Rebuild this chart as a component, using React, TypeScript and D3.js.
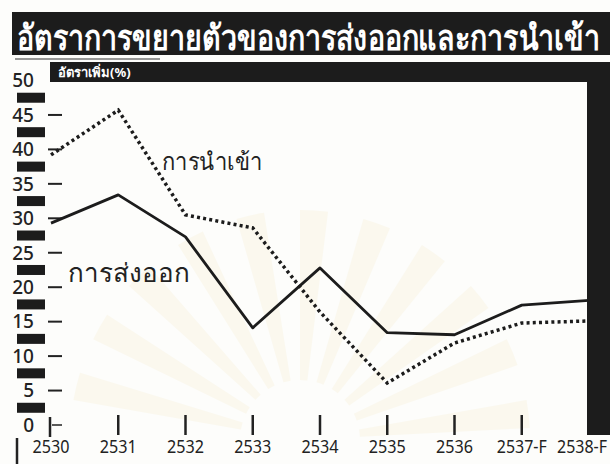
import { useLayoutEffect, useRef, useState } from "react";
import * as d3 from "d3";

const years = ["2530", "2531", "2532", "2533", "2534", "2535", "2536", "2537-F", "2538-F"];
const exports = [29.3, 33.4, 27.3, 14.1, 22.8, 13.4, 13.1, 17.4, 18.1];
const imports = [39.2, 45.7, 30.5, 28.6, 16.4, 6.1, 11.9, 14.8, 15.1];
const yTicks = [50, 45, 40, 35, 30, 25, 20, 15, 10, 5, 0];
const title = "อัตราการขยายตัวของการส่งออกและการนำเข้า";
const yTitle = "อัตราเพิ่ม(%)";
const exportLabel = "การส่งออก";
const importLabel = "การนำเข้า";

const W = 610;
const H = 464;
const font = "'Noto Sans', 'DejaVu Sans', sans-serif";
const ink = "#1c1c1c";

// text squeezed horizontally to a given width (measured, then scaled)
const FitText = ({
  x,
  y,
  width,
  anchor = "start",
  children,
  ...rest
}: any) => {
  const ref = useRef<SVGTextElement>(null);
  const [sx, setSx] = useState(1);
  useLayoutEffect(() => {
    if (!ref.current) return;
    const w = ref.current.getBBox().width;
    if (w > 0) setSx(width / w);
  }, [width, children]);
  return (
    <g transform={`translate(${x},${y}) scale(${sx},1)`}>
      <text ref={ref} textAnchor={anchor} {...rest}>
        {children}
      </text>
    </g>
  );
};

export default function App() {
  const x = d3.scalePoint<string>().domain(years).range([51, 589]);
  const y = d3.scaleLinear().domain([0, 50]).range([425, 80.5]);

  const line = d3
    .line<number>()
    .x((_, i) => x(years[i])!)
    .y((d) => y(d));

  const blocks = d3.range(2.5, 50, 5);

  // faint watermark rays behind the chart (scan artefact)
  const rays = d3.range(-80, 81, 16).map((a) => {
    const arc = d3.arc()({
      innerRadius: 60,
      outerRadius: 230,
      startAngle: (a * Math.PI) / 180,
      endAngle: ((a + 7) * Math.PI) / 180,
    } as any);
    return arc!;
  });

  return (
    <div style={{ position: "absolute", left: 0, top: 0 }}>
      <svg width={W} height={H} style={{ display: "block", background: "#fdfdfb" }}>
        <g transform="translate(300,440)" fill="#f6ecc9" opacity={0.25}>
          {rays.map((d, i) => (
            <path key={i} d={d} />
          ))}
        </g>

        {/* title banner */}
        <rect x={12} y={12} width={W - 12} height={43} fill={ink} />
        <FitText
          x={17}
          y={50}
          width={586}
          fill="#fff"
          fontFamily={font}
          fontWeight="bold"
          fontSize={35}
        >
          {title}
        </FitText>
        <line x1={15} x2={160} y1={59} y2={59} stroke="#333" strokeWidth={1.2} />
        {/* sub bar */}
        <rect x={50} y={62} width={W - 50} height={20} fill={ink} />
        <text x={58} y={77} fill="#fff" fontFamily={font} fontWeight="bold" fontSize={13}>
          {yTitle}
        </text>

        {/* y axis labels, dashes and blocks */}
        {yTicks.map((t) => (
          <g key={t}>
            <text
              x={34}
              y={y(t)}
              dy="0.36em"
              textAnchor="end"
              fontFamily={font}
              fontSize={19}
              fontWeight={500}
              fill="#222"
            >
              {t}
            </text>
            {t !== 50 && t !== 0 && (
              <line x1={48} x2={62} y1={y(t)} y2={y(t)} stroke="#222" strokeWidth={2} />
            )}
          </g>
        ))}
        {blocks.map((b) => (
          <rect key={b} x={17} y={y(b) - 5} width={28} height={10} fill={ink} />
        ))}
        <line x1={50} x2={50} y1={417} y2={437} stroke="#222" strokeWidth={2.5} />
        <line x1={52} x2={62} y1={425} y2={425} stroke="#222" strokeWidth={1.5} />
        <line x1={17} x2={17} y1={438} y2={464} stroke="#222" strokeWidth={2.5} />

        {/* series */}
        <path
          d={line(imports)!}
          fill="none"
          stroke={ink}
          strokeWidth={3.5}
          strokeDasharray="3 3.2"
        />
        <path
          d={line(exports)!}
          fill="none"
          stroke={ink}
          strokeWidth={2.8}
          strokeLinejoin="round"
        />

        {/* right frame */}
        <rect x={587} y={62} width={W - 587} height={373} fill={ink} />

        {/* x ticks and labels */}
        {years.map((yr, i) => (
          <g key={yr}>
            {i > 0 && i < years.length - 1 && (
              <line x1={x(yr)} x2={x(yr)} y1={415} y2={435} stroke="#222" strokeWidth={2.5} />
            )}
            <FitText
              x={Math.min(x(yr)!, W - 28)}
              y={453}
              width={yr.length > 4 ? 50 : 37}
              anchor="middle"
              fontFamily={font}
              fontSize={18}
              fill="#222"
            >
              {yr}
            </FitText>
          </g>
        ))}

        <FitText x={162} y={170} width={98} fontFamily={font} fontSize={24} fill="#222">
          {importLabel}
        </FitText>
        <FitText x={68} y={282} width={122} fontFamily={font} fontSize={26} fill="#222">
          {exportLabel}
        </FitText>
      </svg>
    </div>
  );
}
